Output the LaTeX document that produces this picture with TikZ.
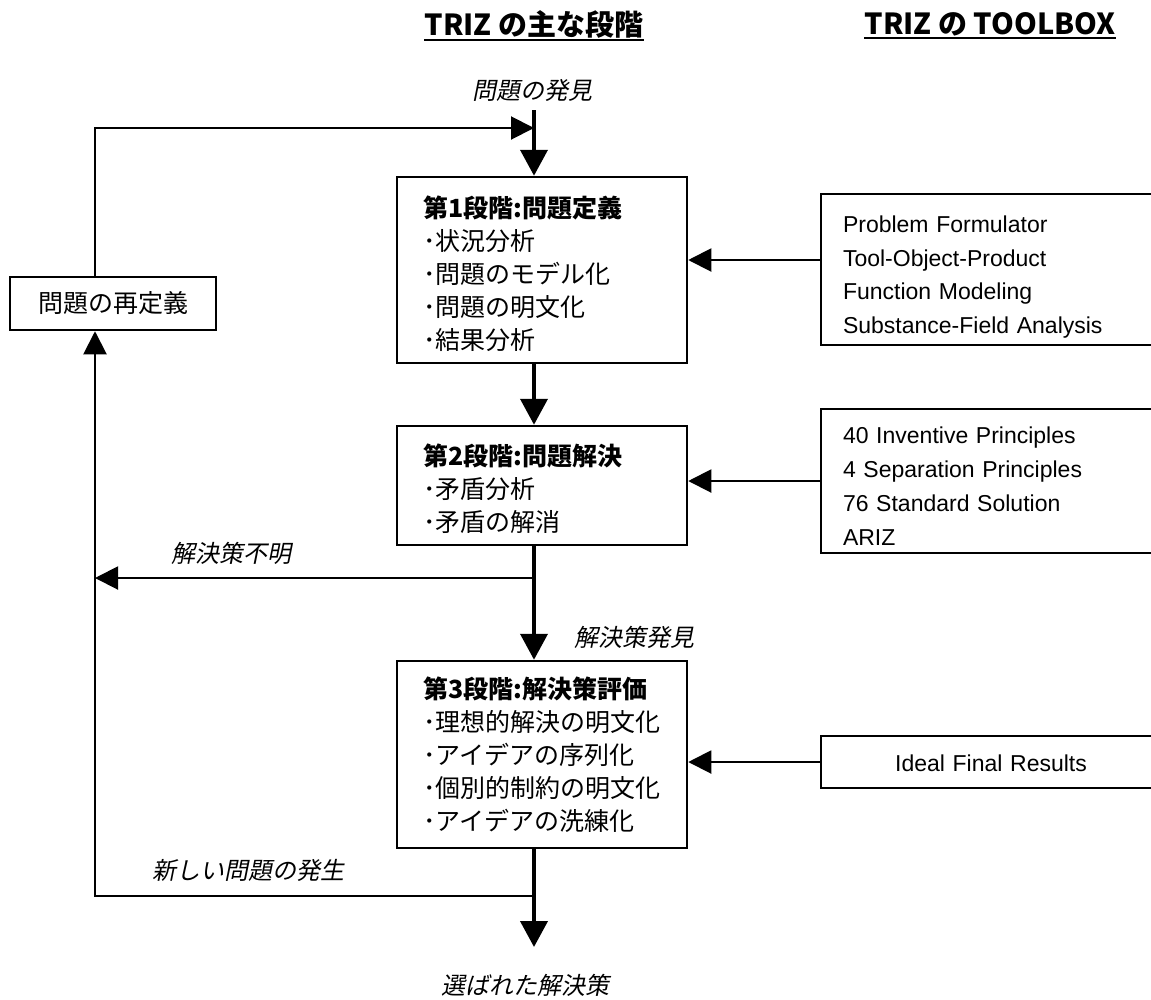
\documentclass[tikz,border=0pt]{standalone}
\usepackage{fontspec}
\setmainfont{Liberation Sans}
\newfontfamily\jp{Noto Sans CJK JP}
\newfontfamily\jpit{Noto Sans CJK JP}[FakeSlant=0.2]
\usetikzlibrary{arrows.meta}
\begin{document}
\begin{tikzpicture}[x=1pt,y=-1pt,
  stagebox/.style={draw, line width=2.5pt, text width=238pt, inner xsep=26pt, inner ysep=0pt, align=left, font=\jp\fontsize{25}{33}\selectfont},
  toolbox/.style={draw, line width=2.5pt, text width=296pt, inner xsep=22pt, inner ysep=0pt, align=left, font=\fontsize{23}{33.5}\selectfont},
  lbl/.style={font=\jpit\fontsize{24}{28}\selectfont, inner sep=0pt},
  heading/.style={font=\jp\bfseries\fontsize{29}{32}\selectfont, inner xsep=0pt, inner ysep=2pt},
  mainarrow/.style={line width=4pt, -{Triangle[length=26pt,width=27pt]}},
  thinarrow/.style={line width=2pt, -{Triangle[length=23pt,width=23pt]}},
]
\useasboundingbox (0,0) rectangle (1151,999);

% headings
\node[heading] (h1) at (534,24) {TRIZ の主な段階};
\node[heading] (h2) at (990,24) {TRIZ の TOOLBOX};
\draw[line width=2.5pt] (h1.south west) -- (h1.south east);
\draw[line width=2.5pt] (h2.south west) -- (h2.south east);

% stage boxes
\node[stagebox, minimum height=186pt] (s1) at (542,270) {\rule{0pt}{29pt}{\bfseries 第1段階:問題定義}\\･状況分析\\･問題のモデル化\\･問題の明文化\\･結果分析};
\node[stagebox, minimum height=119pt] (s2) at (542,485.5) {\rule{0pt}{29pt}{\bfseries 第2段階:問題解決}\\･矛盾分析\\･矛盾の解消};
\node[stagebox, minimum height=187pt] (s3) at (542,754.5) {{\bfseries 第3段階:解決策評価}\\･理想的解決の明文化\\･アイデアの序列化\\･個別的制約の明文化\\･アイデアの洗練化};

% toolboxes
\node[toolbox, minimum height=151pt] (tb1) at (991,269.5) {\rule{0pt}{32pt}Problem Formulator\\Tool-Object-Product\\Function Modeling\\Substance-Field Analysis};
\node[toolbox, minimum height=144pt, font=\fontsize{23}{34}\selectfont] (tb2) at (991,481) {\rule{0pt}{26pt}40 Inventive Principles\\4 Separation Principles\\76 Standard Solution\\ARIZ};
\node[toolbox, align=center, minimum height=52pt] (tb3) at (991,762) {\rule{0pt}{20pt}Ideal Final Results};

% redefinition box
\node[draw, line width=2.5pt, minimum width=206pt, minimum height=53pt, inner sep=0pt, font=\jp\fontsize{25}{30}\selectfont] (rd) at (113,303.5) {問題の再定義};

% labels
\node[lbl] (l1) at (532,90) {問題の発見};
\node[lbl] (l2) at (231,553) {解決策不明};
\node[lbl] (l3) at (634,637) {解決策発見};
\node[lbl] (l4) at (248,870) {新しい問題の発生};
\node[lbl] (l5) at (525,985) {選ばれた解決策};

% coordinates
\coordinate (mt) at (534,110);
\coordinate (eb) at (534,947);
\coordinate (lt) at (95,128);
\coordinate (j1) at (534,578);
\coordinate (j2) at (534,896);
\coordinate (c1) at ([yshift=9.5pt]tb1.west);

% main flow
\draw[mainarrow] (mt) -- (mt |- s1.north);
\draw[mainarrow] (s1.south -| mt) -- (s2.north -| mt);
\draw[mainarrow] (s2.south -| mt) -- (s3.north -| mt);
\draw[mainarrow] (s3.south -| mt) -- (eb);

% toolbox connectors
\draw[thinarrow] (c1) -- (c1 -| s1.east);
\draw[thinarrow] (tb2.west) -- (tb2.west -| s2.east);
\draw[thinarrow] (tb3.west) -- (tb3.west -| s3.east);

% feedback loops
\draw[thinarrow] (rd.north -| lt) -- (lt) -- (lt -| mt);
\draw[thinarrow] (j1) -- (j1 -| lt);
\draw[thinarrow] (j2) -- (j2 -| lt) -- (rd.south -| lt);
\end{tikzpicture}
\end{document}
